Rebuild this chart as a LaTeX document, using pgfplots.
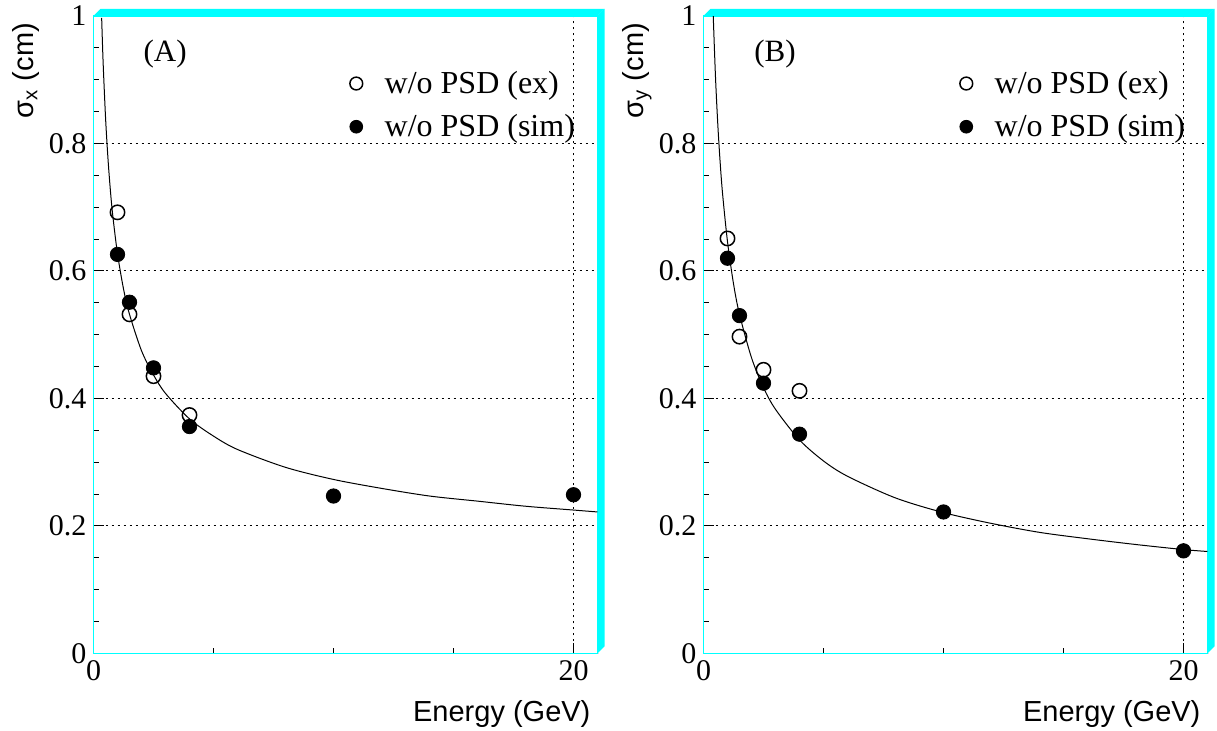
\documentclass[border=0pt]{standalone}
\usepackage{fontspec}
\setmainfont{Liberation Serif}
\newfontfamily\helv{Liberation Sans}
\usepackage{pgfplots}
\usepackage{pgfplotstable}
\pgfplotsset{compat=1.18}
\definecolor{rcyan}{RGB}{0,255,255}

\pgfplotstableread{
E sig
1   0.692
1.5 0.532
2.5 0.435
4   0.374
}\Aex
\pgfplotstableread{
E sig
1   0.626
1.5 0.551
2.5 0.448
4   0.356
10  0.247
20  0.249
}\Asim
\pgfplotstableread{
E sig
1   0.651
1.5 0.497
2.5 0.445
4   0.412
}\Bex
\pgfplotstableread{
E sig
1   0.620
1.5 0.530
2.5 0.424
4   0.344
10  0.222
20  0.161
}\Bsim
\pgfplotstableread{
E sig
0.34 0.997
0.4  0.928
0.5  0.842
0.6  0.778
0.7  0.728
0.8  0.688
1    0.627
1.25 0.572
1.5  0.532
2    0.475
2.5  0.437
3    0.408
4    0.368
5    0.341
6    0.320
8    0.292
10   0.273
12   0.259
14   0.247
16   0.239
18   0.231
20   0.225
21   0.222
}\Afit
\pgfplotstableread{
E sig
0.406 1.000
0.5  0.904
0.6  0.827
0.7  0.767
0.8  0.719
1    0.646
1.25 0.580
1.5  0.532
2    0.464
2.5  0.417
3    0.383
4    0.335
5    0.302
6    0.278
8    0.244
10   0.221
12   0.204
14   0.190
16   0.180
18   0.171
20   0.163
21   0.160
}\Bfit

\pgfplotsset{
  rootstyle/.style={
    width=252pt, height=318.75pt, scale only axis,
    xmin=0, xmax=21, ymin=0, ymax=1,
    clip=false,
    xtick={0,20}, xticklabels={0,20}, minor x tick num=3,
    ytick={0,0.2,0.4,0.6,0.8,1}, yticklabels={0,0.2,0.4,0.6,0.8,1},
    minor y tick num=3,
    tick align=inside, xtick pos=bottom, ytick pos=left,
    major tick length=5pt, minor tick length=2.5pt,
    tick style={black, line width=0.5pt},
    axis line style={rcyan, line width=0.6pt},
    grid=major,
    major grid style={black, line width=0.5pt, dash pattern=on 1.4pt off 1.6pt},
    ticklabel style={font=\fontsize{15}{18}\selectfont},
    /pgf/number format/assume math mode=true,
    xlabel style={at={(axis description cs:1,-0.106)}, anchor=base east, font=\helv\fontsize{14.5}{17}\selectfont},
    ylabel style={at={(axis description cs:-0.12,1)}, anchor=base east, font=\helv\fontsize{14.5}{17}\selectfont},
    xlabel={Energy (GeV)},
    legend style={draw=none, fill=none, at={(axis description cs:0.496,0.927)}, anchor=north west,
      font=\fontsize{16}{19}\selectfont, row sep=5pt, column sep=9pt,
      nodes={inner sep=2pt}},
    legend cell align=left,
    legend image code/.code={\draw[##1, mark size=3.2pt] plot coordinates {(0.12cm,0cm)};},
    exstyle/.style={only marks, mark=o, mark size=3.6pt, black, line width=0.75pt},
    simstyle/.style={only marks, mark=*, mark size=3.6pt, black, fill=black},
    fitstyle/.style={black, line width=0.5pt, smooth, no marks, forget plot},
  }
}

\newcommand{\rootframe}{%
  \fill[rcyan] (rel axis cs:0,1) -- ([xshift=3.5pt,yshift=3.5pt]rel axis cs:0,1)
     -- ([xshift=3.5pt,yshift=3.5pt]rel axis cs:1,1) -- (rel axis cs:1,1) -- cycle;
  \fill[rcyan] (rel axis cs:1,1) -- ([xshift=3.5pt,yshift=3.5pt]rel axis cs:1,1)
     -- ([xshift=3.5pt,yshift=3.5pt]rel axis cs:1,0) -- (rel axis cs:1,0) -- cycle;
  \draw[rcyan, line width=0.7pt] (rel axis cs:0,0) -- (rel axis cs:1,0);
}

\begin{document}
\begin{tikzpicture}
\useasboundingbox (0,0) rectangle (608.5pt,365.5pt);

\begin{axis}[rootstyle, at={(46.75pt,38.75pt)}, anchor=south west,
  ylabel={σ\textsubscript{x} (cm)}]
  \addplot[fitstyle] table[x=E,y=sig] {\Afit};
  \addplot[exstyle] table[x=E,y=sig] {\Aex};
  \addlegendentry{w/o PSD (ex)}
  \addplot[simstyle] table[x=E,y=sig] {\Asim};
  \addlegendentry{w/o PSD (sim)}
  \rootframe
  \node[font=\fontsize{15.5}{18}\selectfont] at (axis description cs:0.142,0.941) {(A)};
\end{axis}

\begin{axis}[rootstyle, at={(351.75pt,38.75pt)}, anchor=south west,
  ylabel={σ\textsubscript{y} (cm)}]
  \addplot[fitstyle] table[x=E,y=sig] {\Bfit};
  \addplot[exstyle] table[x=E,y=sig] {\Bex};
  \addlegendentry{w/o PSD (ex)}
  \addplot[simstyle] table[x=E,y=sig] {\Bsim};
  \addlegendentry{w/o PSD (sim)}
  \rootframe
  \node[font=\fontsize{15.5}{18}\selectfont] at (axis description cs:0.142,0.941) {(B)};
\end{axis}
\end{tikzpicture}
\end{document}
